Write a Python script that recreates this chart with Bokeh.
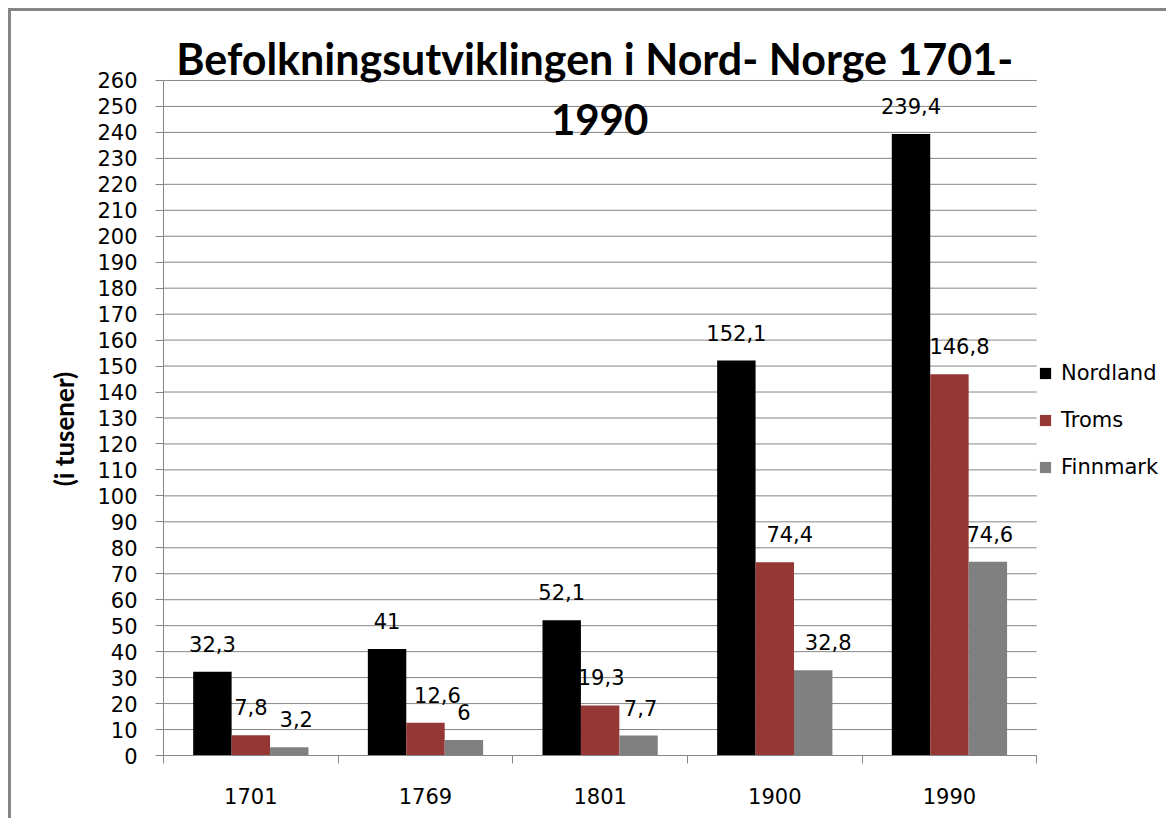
from bokeh.plotting import figure
from bokeh.models import (ColumnDataSource, Range1d, FixedTicker, Legend, LegendItem,
                          LabelSet, Label)
from bokeh.core.properties import value
from bokeh.transform import dodge
from bokeh.embed import file_html
from bokeh.resources import INLINE

# ---- data ----
years = ["1701", "1769", "1801", "1900", "1990"]
nordland = [32.3, 41, 52.1, 152.1, 239.4]
troms = [7.8, 12.6, 19.3, 74.4, 146.8]
finnmark = [3.2, 6, 7.7, 32.8, 74.6]
series_names = ["Nordland", "Troms", "Finnmark"]
y_ticks = list(range(0, 261, 10))
title_lines = ["Befolkningsutviklingen i Nord- Norge 1701-", "1990"]
y_label = "(i tusener)"

# ---- style ----
colors = ["#000000", "#953735", "#808080"]
grid_col = "#868686"
txt_font = "DejaVu Sans"
bold_font = "Lato"
bar_w = 0.22
n = len(years)
y_max = y_ticks[-1]
y_top = 283.1          # headroom above the axis so the title sits inside the plot frame
x_right = 5.76         # room right of the categories for the legend
# small horizontal nudges (px) of value labels, as the original label layout does
label_dx = {"Nordland": [0, 0, 0, 0, 0],
            "Troms": [0, 12, 1, 15, 10],
            "Finnmark": [7, 0, 2, 15, 2]}

def fmt(v):
    return ("%g" % v).replace(".", ",")

centers = [i + 0.5 for i in range(n)]
src = ColumnDataSource(dict(
    x=centers,
    Nordland=nordland, Troms=troms, Finnmark=finnmark,
    Nordland_t=[fmt(v) for v in nordland],
    Troms_t=[fmt(v) for v in troms],
    Finnmark_t=[fmt(v) for v in finnmark],
    Nordland_dx=label_dx["Nordland"],
    Troms_dx=label_dx["Troms"],
    Finnmark_dx=label_dx["Finnmark"],
))
grid_src = ColumnDataSource(dict(x0=[0] * len(y_ticks), x1=[n] * len(y_ticks),
                                 y=y_ticks))

p = figure(width=1158, height=810,
           x_range=Range1d(0, x_right), y_range=Range1d(0, y_top),
           output_backend="svg", toolbar_location=None,
           min_border_left=152, min_border_right=0,
           min_border_top=9, min_border_bottom=66)
p.styles = {"margin-left": "8px", "margin-top": "8px",
            "border-left": "3px solid #868686", "border-top": "3px solid #868686"}
p.outline_line_color = None
p.background_fill_color = "white"
p.border_fill_color = "white"

# x axis: labels at group centres, tick marks at group boundaries
p.xaxis.ticker = FixedTicker(ticks=centers, minor_ticks=list(range(n + 1)))
p.xaxis.bounds = (0, n)
p.xaxis.major_label_overrides = {c: y for c, y in zip(centers, years)}
p.xaxis.major_tick_out = 0
p.xaxis.major_tick_in = 0
p.xaxis.minor_tick_out = 8
p.xaxis.minor_tick_in = 0
p.xaxis.minor_tick_line_color = grid_col
p.xaxis.axis_line_color = grid_col
p.xaxis.major_label_standoff = 24
p.xaxis.major_label_text_font = txt_font
p.xaxis.major_label_text_font_size = "21px"
p.xaxis.major_label_text_color = "black"

# y axis
p.yaxis.ticker = FixedTicker(ticks=y_ticks, minor_ticks=[])
p.yaxis.bounds = (0, y_max)
p.yaxis.major_tick_out = 8
p.yaxis.major_tick_in = 0
p.yaxis.major_tick_line_color = grid_col
p.yaxis.axis_line_color = grid_col
p.yaxis.major_label_standoff = 18
p.yaxis.major_label_text_font = txt_font
p.yaxis.major_label_text_font_size = "21px"
p.yaxis.major_label_text_color = "black"
p.yaxis.axis_label = y_label + "\u00a0" * 13
p.yaxis.axis_label_text_font = bold_font
p.yaxis.axis_label_text_font_style = "bold"
p.yaxis.axis_label_text_font_size = "26px"
p.yaxis.axis_label_text_color = "black"
p.yaxis.axis_label_standoff = 14

# horizontal gridlines only across the category area
p.xgrid.visible = False
p.ygrid.visible = False
p.segment(x0="x0", x1="x1", y0="y", y1="y", source=grid_src,
          line_color=grid_col, line_width=1)

# bars + value labels
offsets = [-bar_w, 0, bar_w]
items = []
for name, col, off in zip(series_names, colors, offsets):
    r = p.vbar(x=dodge("x", off), top=name, width=bar_w, source=src,
               fill_color=col, line_color=None)
    items.append(LegendItem(label=name, renderers=[r]))
    p.add_layout(LabelSet(x=dodge("x", off), y=name, text=name + "_t", source=src,
                          x_offset=name + "_dx",
                          text_align="center", text_baseline="alphabetic",
                          y_offset=20, text_font=value(txt_font),
                          text_font_size=value("21px"), text_color="black"))

legend = Legend(items=items, location=(875, 276), orientation="vertical",
                glyph_width=14, glyph_height=14, label_standoff=9,
                label_height=20, spacing=23, padding=0, margin=0,
                border_line_color=None, background_fill_alpha=0,
                label_text_font=txt_font, label_text_font_size="21px",
                label_text_color="black")
p.add_layout(legend)

# title (two lines, overlapping the top of the plot like the original)
p.add_layout(Label(x=2.469, y=268.6, text=title_lines[0],
                   text_align="center", text_baseline="alphabetic", text_font=bold_font,
                   text_font_style="bold", text_font_size="43px", text_color="black"))
p.add_layout(Label(x=2.497, y=245.0, text=title_lines[1],
                   text_align="center", text_baseline="alphabetic", text_font=bold_font,
                   text_font_style="bold", text_font_size="42px", text_color="black"))

open("out.html", "w").write(file_html(p, INLINE))
